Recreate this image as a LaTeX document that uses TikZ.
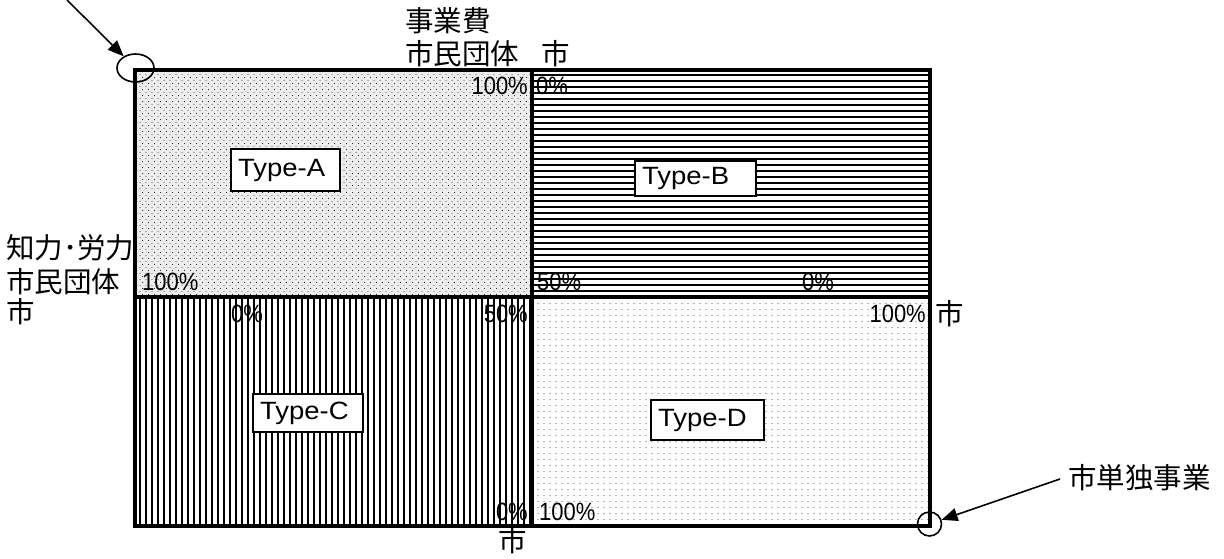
\documentclass[tikz,border=0pt]{standalone}
\usepackage{fontspec}
\usepackage{graphicx}
\setmainfont{Liberation Sans}
\newfontfamily\jpfont{Noto Sans CJK JP}
\usetikzlibrary{arrows.meta,shapes.geometric}
\newcommand{\pct}[1]{\scalebox{0.88}[1]{#1}}
\newcommand{\typetxt}[1]{\scalebox{1.1}[1]{#1}}
\begin{document}
\begin{tikzpicture}[x=1pt,y=-1pt,
  jlbl/.style={inner sep=0pt,font=\jpfont\fontsize{28.5}{30}\selectfont},
  nlbl/.style={inner sep=0pt,font=\fontsize{25}{27}\selectfont},
  typebox/.style={draw,fill=white,line width=2pt,inner xsep=7pt,inner ysep=0pt,align=left,font=\fontsize{25}{27}\selectfont},
  frame/.style={line width=3.5pt},
  pointer/.style={line width=1.6pt,-{Triangle[length=16pt,width=13pt]}},
  ringmark/.style={draw,line width=1.6pt,inner sep=0pt}]
\useasboundingbox (0,0) rectangle (1224,559);
% Type-A pattern (dots)
\fill[gray!14] (135,69) rectangle (533,297);
\foreach \y in {72,78,...,294} \draw[black!85,line width=1pt,dash pattern=on 1pt off 5pt] (136,\y) -- (533,\y);
\foreach \y in {75,81,...,294} \draw[gray!65,line width=1pt,dash pattern=on 2pt off 4pt] (139,\y) -- (533,\y);
% Type-B pattern (horizontal lines)
\foreach \y in {75,81,...,294} \draw[line width=1.2pt] (533,\y) -- (930,\y);
% Type-C pattern (vertical lines)
\foreach \x in {140,146,...,530} \draw[line width=1.5pt] (\x,297) -- (\x,526);
% Type-D pattern (light dotted rows)
\foreach \y in {303,309,...,522} \draw[gray!60,line width=0.9pt,dash pattern=on 2pt off 4pt] (537,\y) -- (930,\y);
% frame
\draw[frame] (135,70) rectangle (930,526);
\draw[frame] (532,70) -- (532,526);
\draw[frame] (135,297) -- (930,297);
% type boxes
\node[typebox,text width=95pt,minimum height=42pt] (ta) at (285.5,170) {\typetxt{Type-A}};
\node[typebox,text width=107pt,minimum height=34pt] (tb) at (695.5,178.5) {\typetxt{Type-B}};
\node[typebox,text width=96pt,minimum height=38pt] (tc) at (308,413) {\typetxt{Type-C}};
\node[typebox,text width=99pt,minimum height=40pt] (td) at (707.5,420) {\typetxt{Type-D}};
% header labels
\node[jlbl,anchor=west] (h1) at (405,21) {事業費};
\node[jlbl,anchor=west] (h2) at (405,54) {市民団体};
\node[jlbl,anchor=west] (h3) at (541,54) {市};
\node[jlbl,anchor=west] (l1) at (6,248) {知力･労力};
\node[jlbl,anchor=west] (l2) at (6,282) {市民団体};
\node[jlbl,anchor=west] (l3) at (6,312) {市};
% percentages
\node[nlbl,anchor=east] (p1) at (528,86) {\pct{100\%}};
\node[nlbl,anchor=west] (p2) at (536,86) {\pct{0\%}};
\node[nlbl,anchor=west] (p3) at (142,282) {\pct{100\%}};
\node[nlbl,anchor=west] (p4) at (537,282) {\pct{50\%}};
\node[nlbl,anchor=west] (p5) at (802,282) {\pct{0\%}};
\node[nlbl,anchor=west] (p6) at (231,314) {\pct{0\%}};
\node[nlbl,anchor=east] (p7) at (528,314) {\pct{50\%}};
\node[nlbl,anchor=east] (p8) at (926,314) {\pct{100\%}};
\node[jlbl,anchor=west] (r1) at (935,314) {市};
\node[nlbl,anchor=east] (p9) at (528,512) {\pct{0\%}};
\node[nlbl,anchor=west] (p10) at (539,512) {\pct{100\%}};
\node[jlbl] (b1) at (513,541) {市};
\node[jlbl,anchor=west] (s2) at (1068,478) {市単独事業};
% markers and pointers
\node[ringmark,ellipse,minimum width=37pt,minimum height=28pt] (c1) at (135.5,68) {};
\node[ringmark,circle,minimum size=24pt] (c2) at (929.5,524) {};
\coordinate (a1) at (67,0);
\coordinate (a2) at (1060,479);
\draw[pointer] (a1) -- (c1);
\draw[pointer] (a2) -- (c2);
\end{tikzpicture}
\end{document}
